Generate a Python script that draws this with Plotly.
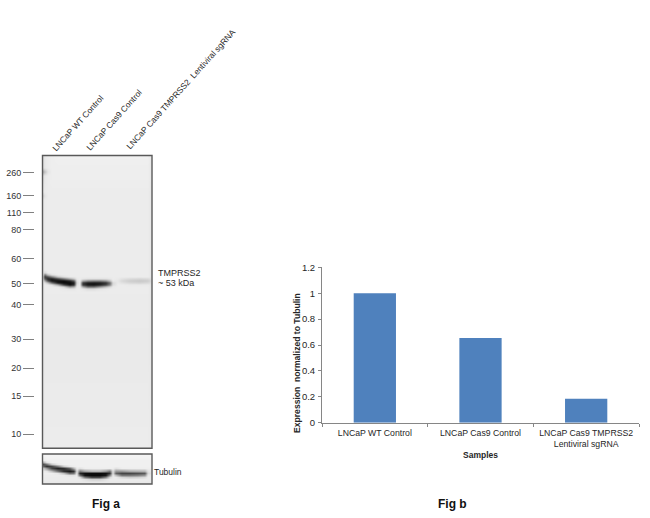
import plotly.graph_objects as go

# ---------- Fig b data ----------
samples = ["LNCaP WT Control", "LNCaP Cas9 Control", "LNCaP Cas9 TMPRSS2<br>Lentiviral sgRNA"]
expression = [1.0, 0.655, 0.185]

# ---------- Fig a data ----------
lane_labels = ["LNCaP WT Control", "LNCaP Cas9 Control", "LNCaP Cas9 TMPRSS2  Lentiviral sgRNA"]
mw_labels = ["260", "160", "110", "80", "60", "50", "40", "30", "20", "15", "10"]
mw_migration = [173, 196, 213, 230, 259, 283.5, 305, 339, 368, 396, 434]

blot_x = [43, 45, 48, 52, 58, 64, 70, 74, 77, 80, 83, 88, 94, 100, 106, 110, 113, 118, 122, 130, 140, 148, 152]
blot_y = [156, 168, 172, 176, 192, 196, 200, 270, 273, 275, 277, 279, 281, 283, 285, 287, 289, 292, 296, 360, 448]
blot_gray = [
    [215, 232, 236, 238, 240, 240, 240, 240, 240, 240, 240, 240, 240, 240, 240, 240, 240, 240, 240, 240, 240, 240, 228],
    [215, 232, 236, 238, 238, 238, 238, 238, 238, 238, 238, 238, 238, 238, 238, 238, 238, 238, 238, 238, 238, 238, 228],
    [165, 195, 228, 238, 238, 238, 238, 238, 238, 238, 238, 238, 238, 238, 238, 238, 238, 238, 238, 238, 238, 238, 228],
    [215, 232, 236, 238, 238, 238, 238, 238, 238, 238, 238, 238, 238, 238, 238, 238, 238, 238, 238, 238, 238, 238, 228],
    [228, 235, 236, 236, 236, 236, 236, 236, 236, 236, 236, 236, 236, 236, 236, 236, 236, 236, 236, 236, 236, 236, 228],
    [205, 228, 236, 236, 236, 236, 236, 236, 236, 236, 236, 236, 236, 236, 236, 236, 236, 236, 236, 236, 236, 236, 228],
    [228, 235, 236, 236, 236, 236, 236, 236, 236, 236, 236, 236, 236, 236, 236, 236, 236, 236, 236, 236, 236, 236, 228],
    [226, 236, 236, 236, 236, 236, 236, 236, 236, 236, 236, 236, 236, 236, 236, 236, 236, 236, 236, 236, 236, 236, 228],
    [225, 215, 235, 236, 236, 236, 236, 236, 236, 236, 236, 236, 236, 236, 236, 236, 236, 236, 236, 236, 236, 236, 228],
    [225, 120, 190, 225, 235, 236, 236, 236, 236, 236, 236, 236, 236, 236, 236, 236, 236, 236, 236, 236, 236, 236, 228],
    [200, 60, 80, 130, 200, 225, 235, 235, 236, 236, 236, 236, 236, 236, 236, 236, 236, 236, 236, 236, 236, 236, 228],
    [210, 90, 40, 30, 70, 120, 170, 200, 232, 236, 230, 225, 225, 225, 225, 230, 236, 234, 226, 218, 214, 218, 228],
    [225, 170, 80, 25, 15, 15, 40, 90, 225, 236, 170, 140, 130, 130, 150, 190, 234, 230, 216, 205, 200, 205, 226],
    [226, 225, 190, 110, 30, 10, 10, 30, 215, 235, 60, 30, 25, 30, 50, 110, 215, 234, 226, 216, 212, 218, 228],
    [226, 236, 235, 225, 170, 70, 20, 50, 225, 235, 60, 25, 20, 35, 70, 130, 220, 236, 236, 234, 234, 234, 228],
    [226, 236, 236, 236, 234, 215, 150, 170, 234, 235, 170, 110, 110, 150, 190, 215, 234, 236, 236, 236, 236, 236, 228],
    [226, 236, 236, 236, 236, 234, 230, 230, 236, 236, 232, 220, 220, 230, 234, 236, 236, 236, 236, 236, 236, 236, 228],
    [226, 236, 236, 236, 236, 236, 236, 236, 236, 236, 236, 236, 236, 236, 236, 236, 236, 236, 236, 236, 236, 236, 228],
    [226, 235, 235, 235, 235, 235, 235, 235, 235, 235, 235, 235, 235, 235, 235, 235, 235, 235, 235, 235, 235, 235, 228],
    [228, 234, 234, 234, 234, 234, 234, 234, 234, 234, 234, 234, 234, 234, 234, 234, 234, 234, 234, 234, 234, 234, 230],
    [232, 236, 236, 236, 236, 236, 236, 236, 236, 236, 236, 236, 236, 236, 236, 236, 236, 236, 236, 236, 236, 236, 234],
]

tub_x = [43, 47, 52, 58, 64, 70, 74, 77, 80, 85, 92, 100, 106, 110, 113, 116, 122, 130, 138, 145, 148, 152]
tub_y = [455, 461, 463, 465, 467, 469, 471, 473, 475, 477, 479, 482, 484]
tub_gray = [
    [245, 245, 245, 245, 245, 245, 245, 245, 245, 245, 245, 245, 245, 245, 245, 245, 245, 245, 245, 245, 245, 245],
    [235, 240, 240, 240, 240, 240, 240, 240, 240, 240, 240, 240, 240, 240, 240, 240, 240, 240, 240, 240, 240, 240],
    [170, 225, 240, 240, 240, 240, 240, 240, 240, 240, 240, 240, 240, 240, 240, 240, 240, 240, 240, 240, 240, 240],
    [70, 120, 200, 232, 240, 240, 240, 240, 240, 240, 240, 240, 240, 240, 240, 240, 240, 240, 240, 240, 240, 240],
    [110, 50, 70, 130, 205, 232, 238, 240, 240, 240, 240, 240, 240, 240, 240, 240, 240, 240, 240, 240, 240, 240],
    [210, 150, 70, 35, 50, 100, 180, 235, 225, 238, 238, 238, 238, 238, 238, 225, 238, 238, 238, 238, 238, 238],
    [235, 230, 190, 120, 50, 25, 50, 225, 120, 160, 180, 180, 150, 110, 225, 150, 150, 170, 175, 180, 225, 238],
    [238, 238, 238, 230, 190, 110, 120, 235, 40, 15, 10, 10, 15, 50, 225, 100, 70, 70, 80, 90, 215, 236],
    [236, 236, 236, 236, 235, 225, 225, 236, 110, 20, 10, 10, 25, 130, 235, 190, 120, 120, 130, 150, 230, 236],
    [235, 235, 235, 235, 235, 235, 235, 235, 220, 120, 70, 70, 130, 215, 235, 235, 215, 205, 210, 220, 235, 235],
    [235, 235, 235, 235, 235, 235, 235, 235, 235, 225, 210, 210, 225, 235, 235, 235, 235, 235, 235, 235, 235, 235],
    [232, 232, 232, 232, 232, 232, 232, 232, 232, 232, 232, 232, 232, 232, 232, 232, 232, 232, 232, 232, 232, 232],
    [228, 228, 228, 228, 228, 228, 228, 228, 228, 228, 228, 228, 228, 228, 228, 228, 228, 228, 228, 228, 228, 228],
]

# ---------- styling ----------
W, H = 650, 518
FONT = "Liberation Sans, Arial, sans-serif"
TXT = "#262626"
GRAYS = [[0, "#000000"], [1, "#ffffff"]]


def hdom(a, b):
    return [a / W, b / W]


def vdom(top, bottom):
    return [1 - bottom / H, 1 - top / H]


fig = go.Figure()

# Western blot panels
fig.add_trace(go.Heatmap(x=blot_x, y=blot_y, z=blot_gray, xaxis="x2", yaxis="y2", zmin=0, zmax=255,
                         colorscale=GRAYS, showscale=False, zsmooth="best", hoverinfo="skip"))
fig.add_trace(go.Heatmap(x=tub_x, y=tub_y, z=tub_gray, xaxis="x3", yaxis="y3", zmin=0, zmax=255,
                         colorscale=GRAYS, showscale=False, zsmooth="best", hoverinfo="skip"))

# Bar chart
fig.add_trace(go.Bar(x=samples, y=expression, marker=dict(color="#4F81BD", line=dict(width=0)),
                     width=0.4, hoverinfo="skip"))

fig.update_layout(
    width=W, height=H, margin=dict(l=0, r=0, t=0, b=0, autoexpand=False), showlegend=False,
    paper_bgcolor="white", plot_bgcolor="white",
    font=dict(family=FONT, size=9, color=TXT),
    xaxis=dict(domain=hdom(322, 639), anchor="y", range=[-0.5, 2.5], type="category",
               tickmode="array", tickvals=[0, 1, 2], ticktext=samples,
               ticks="outside", ticklen=3, tickcolor="#868686", tickson="boundaries",
               showline=True, linecolor="#868686", linewidth=1, showgrid=False, automargin=False,
               tickfont=dict(size=8.7, color=TXT), tickangle=0, ticklabelstandoff=2,
               title=dict(text="<b>Samples</b>", font=dict(size=8.5, color=TXT), standoff=3)),
    yaxis=dict(domain=vdom(267.3, 422.7), anchor="x", range=[0, 1.2], dtick=0.2,
               ticks="outside", ticklen=3, tickcolor="#868686", showline=True,
               linecolor="#868686", linewidth=1, showgrid=False, zeroline=False, automargin=False,
               tickfont=dict(size=9.5, color=TXT), ticklabelstandoff=1),
    xaxis2=dict(domain=hdom(42.5, 152), anchor="y3", range=[43, 152], visible=False),
    yaxis2=dict(domain=vdom(155.5, 448.3), anchor="free", position=34 / W, overlaying=None,
                range=[448, 156], tickmode="array", tickvals=mw_migration, ticktext=mw_labels,
                ticks="outside", ticklen=11, tickcolor="#808080", tickwidth=1, showline=False,
                showgrid=False, zeroline=False, automargin=False, tickfont=dict(size=9, color="#333333")),
    xaxis3=dict(domain=hdom(42.5, 152), anchor="y3", range=[43, 152], visible=False, matches="x2"),
    yaxis3=dict(domain=vdom(454, 484), anchor="x3", range=[484, 455], visible=False),
)

# panel frames
for xr, yr in (("x2 domain", "y2 domain"), ("x3 domain", "y3 domain")):
    fig.add_shape(type="rect", xref=xr, yref=yr, x0=0, x1=1, y0=0, y1=1,
                  line=dict(color="#595959", width=1.4), layer="above")


def note(text, x, y, size=9, angle=0, anchor="center", color=TXT):
    fig.add_annotation(text=text, x=x / W, y=1 - y / H, xref="paper", yref="paper", showarrow=False,
                       textangle=angle, xanchor=anchor, yanchor="middle",
                       font=dict(size=size, color=color, family=FONT), align="left")


note(lane_labels[0], 78, 123, size=8.4, angle=-48)
note(lane_labels[1], 114, 120, size=8.4, angle=-48)
note(lane_labels[2], 181, 89, size=8.4, angle=-48)
note("TMPRSS2", 156, 273, size=9, anchor="left")
note("~ 53 kDa", 156, 283, size=9, anchor="left")
note("Tubulin", 152, 472, size=8.5, anchor="left")
note("<b>Expression  normalized to Tubulin</b>", 297, 363, size=8.6, angle=-90)
note("<b>Fig a</b>", 106, 504, size=12, color="#111111")
note("<b>Fig b</b>", 452, 504, size=12, color="#111111")

fig.write_html("out.html", post_script="document.body.style.margin='0';",
               config={"displayModeBar": False})
